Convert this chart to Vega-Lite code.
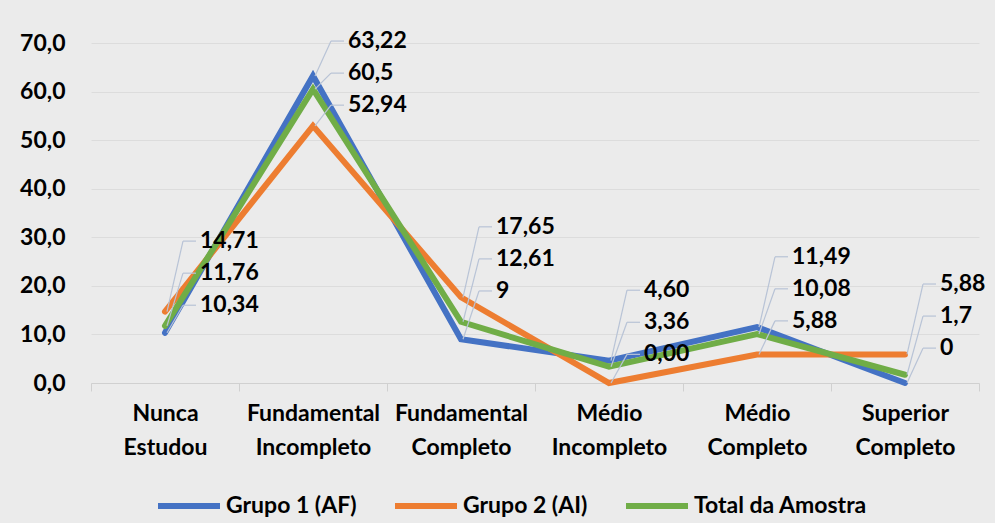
{
  "$schema": "https://vega.github.io/schema/vega-lite/v6.json",
  "width": 888,
  "height": 340,
  "autosize": {"type": "none"},
  "padding": {"left": 91, "top": 43, "right": 16, "bottom": 140},
  "background": "#ebebeb",
  "config": {
    "font": "Lato",
    "view": {"stroke": null},
    "axis": {"labelFont": "Lato", "labelFontWeight": "bold", "labelFontSize": 23, "labelColor": "#000000"},
    "legend": {"labelFont": "Lato", "labelFontWeight": "bold", "labelFontSize": 23, "labelColor": "#000000"}
  },
  "data": {
    "values": [
      {"cat": "Nunca Estudou", "serie": "Grupo 1 (AF)", "value": 10.34, "label": "10,34"},
      {"cat": "Nunca Estudou", "serie": "Grupo 2 (AI)", "value": 14.71, "label": "14,71"},
      {"cat": "Nunca Estudou", "serie": "Total da Amostra", "value": 11.76, "label": "11,76"},
      {"cat": "Fundamental Incompleto", "serie": "Grupo 1 (AF)", "value": 63.22, "label": "63,22"},
      {"cat": "Fundamental Incompleto", "serie": "Grupo 2 (AI)", "value": 52.94, "label": "52,94"},
      {"cat": "Fundamental Incompleto", "serie": "Total da Amostra", "value": 60.5, "label": "60,5"},
      {"cat": "Fundamental Completo", "serie": "Grupo 1 (AF)", "value": 9, "label": "9"},
      {"cat": "Fundamental Completo", "serie": "Grupo 2 (AI)", "value": 17.65, "label": "17,65"},
      {"cat": "Fundamental Completo", "serie": "Total da Amostra", "value": 12.61, "label": "12,61"},
      {"cat": "Médio Incompleto", "serie": "Grupo 1 (AF)", "value": 4.6, "label": "4,60"},
      {"cat": "Médio Incompleto", "serie": "Grupo 2 (AI)", "value": 0, "label": "0,00"},
      {"cat": "Médio Incompleto", "serie": "Total da Amostra", "value": 3.36, "label": "3,36"},
      {"cat": "Médio Completo", "serie": "Grupo 1 (AF)", "value": 11.49, "label": "11,49"},
      {"cat": "Médio Completo", "serie": "Grupo 2 (AI)", "value": 5.88, "label": "5,88"},
      {"cat": "Médio Completo", "serie": "Total da Amostra", "value": 10.08, "label": "10,08"},
      {"cat": "Superior Completo", "serie": "Grupo 1 (AF)", "value": 0, "label": "0"},
      {"cat": "Superior Completo", "serie": "Grupo 2 (AI)", "value": 5.88, "label": "5,88"},
      {"cat": "Superior Completo", "serie": "Total da Amostra", "value": 1.7, "label": "1,7"}
    ]
  },
  "transform": [
    {"joinaggregate": [{"op": "max", "field": "value", "as": "maxv"}], "groupby": ["cat"]},
    {"window": [{"op": "row_number", "as": "rn"}], "groupby": ["cat"], "sort": [{"field": "value", "order": "descending"}]},
    {"calculate": "min(datum.maxv + 14.5, 70.4) - (datum.rn - 1) * 6.6", "as": "labelY"}
  ],
  "encoding": {
    "x": {
      "field": "cat",
      "type": "nominal",
      "sort": ["Nunca Estudou", "Fundamental Incompleto", "Fundamental Completo", "Médio Incompleto", "Médio Completo", "Superior Completo"],
      "scale": {"type": "band", "paddingInner": 0, "paddingOuter": 0},
      "axis": {
        "title": null,
        "labelAngle": 0,
        "labelExpr": "split(datum.label, ' ')",
        "labelLineHeight": 34,
        "labelPadding": 11,
        "tickBand": "extent",
        "ticks": true,
        "tickSize": 8,
        "tickColor": "#d0d0d0",
        "domainColor": "#d0d0d0",
        "grid": false
      }
    }
  },
  "layer": [
    {
      "mark": {"type": "line", "strokeWidth": 6, "strokeCap": "round"},
      "encoding": {
        "y": {
          "field": "value",
          "type": "quantitative",
          "scale": {"domain": [0, 70]},
          "axis": {
            "title": null,
            "values": [0, 10, 20, 30, 40, 50, 60, 70],
            "labelExpr": "replace(format(datum.value, '.1f'), '.', ',')",
            "domain": false,
            "ticks": false,
            "labelPadding": 26,
            "gridColor": "#dcdcdc",
            "gridWidth": 1
          }
        },
        "color": {
          "field": "serie",
          "type": "nominal",
          "scale": {"domain": ["Grupo 1 (AF)", "Grupo 2 (AI)", "Total da Amostra"], "range": ["#4472C4", "#ED7D31", "#70AD47"]},
          "legend": {
            "title": null,
            "orient": "none",
            "direction": "horizontal",
            "legendX": 64,
            "legendY": 429,
            "symbolType": "stroke",
            "symbolSize": 3844,
            "symbolStrokeWidth": 6,
            "labelOffset": 3,
            "labelLimit": 400,
            "columnPadding": 26,
            "padding": 0
          }
        }
      }
    },
    {
      "mark": {"type": "rule", "color": "#b8c3d6", "strokeWidth": 1.2, "xOffset": 2, "x2Offset": 18},
      "encoding": {
        "y": {"field": "value", "type": "quantitative"},
        "x2": {"field": "cat"},
        "y2": {"field": "labelY"}
      }
    },
    {
      "mark": {"type": "rule", "color": "#b8c3d6", "strokeWidth": 1.2, "xOffset": 18, "x2Offset": 31},
      "encoding": {
        "y": {"field": "labelY", "type": "quantitative"},
        "x2": {"field": "cat"}
      }
    },
    {
      "mark": {"type": "text", "align": "left", "baseline": "middle", "dx": 35, "font": "Lato", "fontWeight": "bold", "fontSize": 23, "color": "#000000"},
      "encoding": {
        "y": {"field": "labelY", "type": "quantitative"},
        "text": {"field": "label"}
      }
    }
  ]
}
